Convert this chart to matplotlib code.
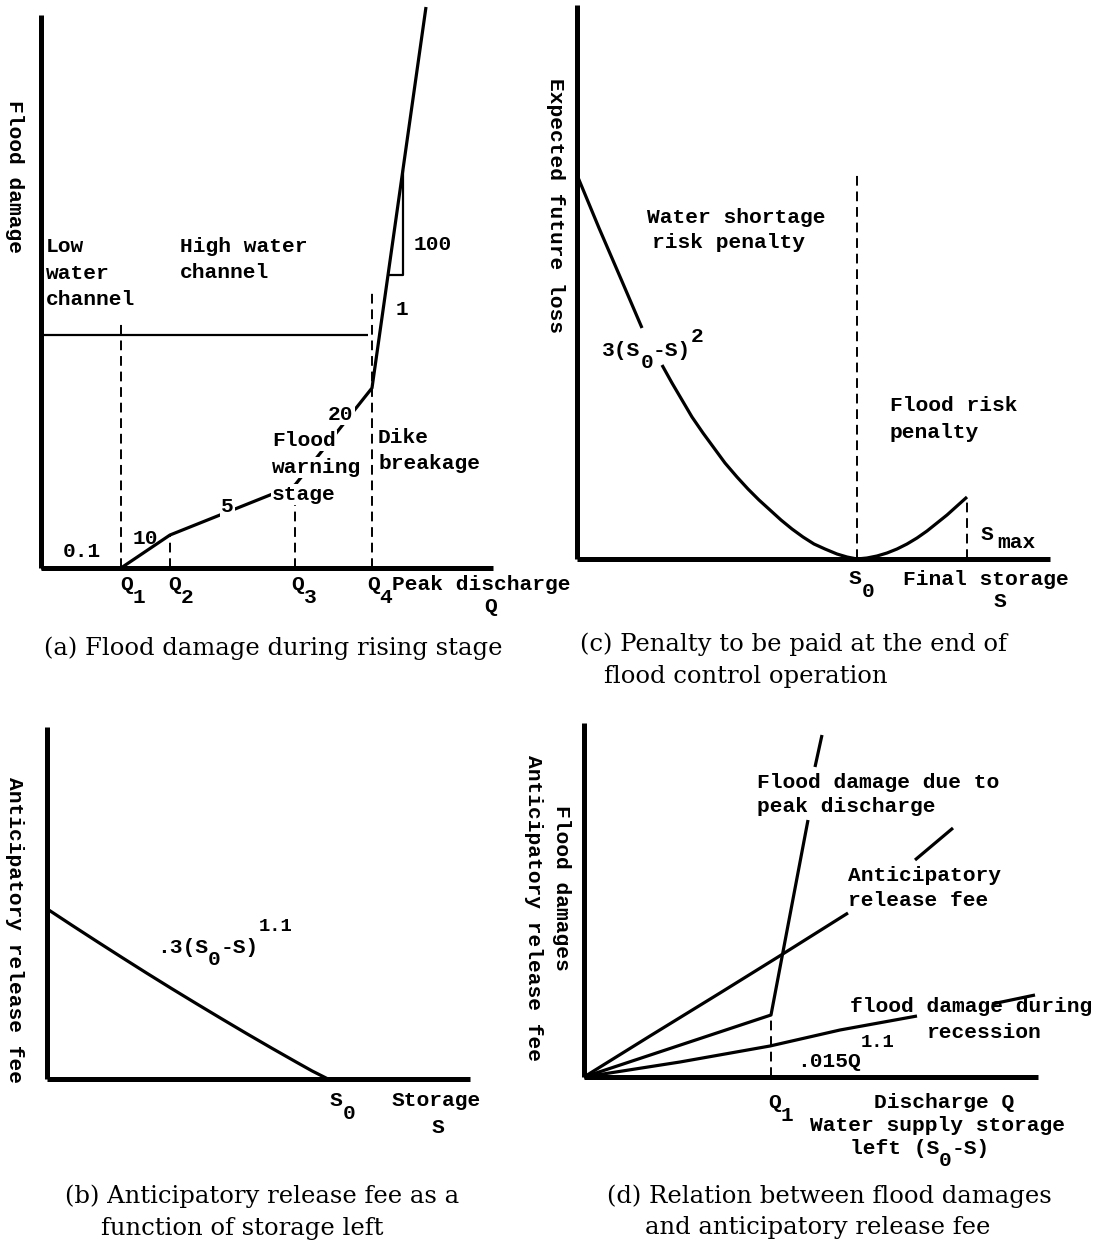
import matplotlib
matplotlib.use("Agg")
import matplotlib.pyplot as plt
from matplotlib.transforms import offset_copy

W, H = 1101, 1241
MONO = "Liberation Mono"
FS = 15.3
SERIF = "DejaVu Serif"

# ---- panel (a): flood damage during rising stage (origin-relative units)
a_axis = dict(x_end=452, y_top=553)
a_q = [80, 129, 254, 331]                 # Q1..Q4
a_dash_top = [248, 33, 63, 278]
a_damage_q = [0, 80, 129, 254, 331, 385]
a_damage_v = [0, 0, 33, 83, 180, 561]
a_channel_q = [0, 327]
a_channel_v = [233, 233]
a_tri_q = [347, 362, 362]
a_tri_v = [293, 293, 398]

# ---- panel (c): penalty at end of operation
c_axis = dict(x_end=473, y_top=554)
c_s0, c_smax = 280, 390
c_s0_top, c_smax_top = 384, 62
c_short1_s = [0, 22, 44, 65]
c_short1_v = [384, 331, 280, 231]
c_short2_s = [85, 95, 105, 115, 126, 137, 148, 160, 171, 182, 193, 204,
              215, 226, 237, 248, 260, 270, 280]
c_short2_v = [194, 176, 159, 142, 126, 111, 96, 82, 70, 59, 49, 39,
              30, 22, 15, 10, 5, 2, 0]
c_flood_s = [280, 290, 300, 310, 320, 330, 340, 350, 360, 370, 380, 390]
c_flood_v = [0, 1, 3, 6, 10, 15, 21, 28, 36, 44, 53, 62]

# ---- panel (b): anticipatory release fee
b_axis = dict(x_end=423, y_top=352)
b_fee_s = [1, 25, 50, 75, 100, 125, 150, 175, 200, 225, 250, 265, 281]
b_fee_v = [169.5, 153.7, 137.5, 121.5, 105.7, 90.2, 75.0, 60.0, 45.2, 30.7, 16.5, 8.1, 0]

# ---- panel (d): flood damages vs anticipatory release fee
d_axis = dict(x_end=454, y_top=354)
d_q1, d_q1_top = 187, 62
d_fee_q = [0, 66, 136, 194, 264]
d_fee_v = [0, 41, 84, 120, 164]
d_fee_tail_q = [331, 369]
d_fee_tail_v = [217, 249]
d_peak_q = [0, 187, 224]
d_peak_v = [0, 62, 257]
d_peak_tail_q = [231, 238]
d_peak_tail_v = [310, 342]
d_rec_q = [0, 96, 186, 256, 333]
d_rec_v = [0, 15, 31, 47, 61]
d_rec_tail_q = [408, 451]
d_rec_tail_v = [73, 82]

fig = plt.figure(figsize=(W / 100, H / 100), dpi=100)


def panel(ox, oy, axis):
    # axes whose data units are one pixel, origin at (ox, oy) in image pixels
    w, h = axis["x_end"], axis["y_top"]
    ax = fig.add_axes([ox / W, 1 - oy / H, w / W, h / H])
    ax.set_xlim(0, w)
    ax.set_ylim(0, h)
    ax.axis("off")
    ax.plot([0, 0], [0, h], color="black", lw=3.6, solid_capstyle="butt", clip_on=False)
    ax.plot([0, w], [0, 0], color="black", lw=3.6, solid_capstyle="butt", clip_on=False)
    return ax


def line(ax, xs, ys, lw=2.3):
    ax.plot(xs, ys, color="black", lw=lw, clip_on=False, solid_capstyle="butt",
            solid_joinstyle="round")


def dash(ax, x, top):
    ax.plot([x, x], [0, top], color="black", lw=1.4, ls=(0, (5, 3)), clip_on=False)


def mono(x, y, pieces, size=FS, box=False):
    # pieces: (text, vertical shift in px[, size]); x, y = left / baseline in image px
    adv = 0.0
    for txt, dy, *rest in pieces:
        fs = rest[0] if rest else size
        tr = offset_copy(fig.transFigure, fig=fig, x=adv, y=-dy * 0.72, units="points")
        t = fig.text(x / W, 1 - y / H, txt, transform=tr, family=MONO, fontsize=fs,
                     weight="bold", ha="left", va="baseline", zorder=5)
        if box:
            t.set_bbox(dict(boxstyle="square,pad=0.05", fc="white", ec="none"))
        adv += 0.6 * fs * len(txt)


def say(x, y, txt, size=FS, box=False):
    mono(x, y, [(txt, 0)], size, box)


def vlabel(x, y, txt):
    fig.text(x / W, 1 - y / H, txt, family=MONO, fontsize=FS, weight="bold",
             rotation=-90, ha="center", va="center")


def caption(x, y, txt):
    fig.text(x / W, 1 - y / H, txt, family=SERIF, fontsize=17.5, ha="left", va="baseline")


# ================= (a)
ax = panel(41, 568, a_axis)
line(ax, a_channel_q, a_channel_v, lw=1.6)
for q, t in zip(a_q, a_dash_top):
    dash(ax, q, t)
line(ax, a_damage_q, a_damage_v)
line(ax, a_tri_q, a_tri_v, lw=1.6)

for txt, y in [("Low", 252), ("water", 279), ("channel", 305)]:
    say(46, y, txt)
say(180, 252, "High water")
say(180, 278, "channel")
say(414, 250, "100")
say(396, 315, "1")
say(328, 420, "20", box=True)
for txt, y in [("Flood", 446), ("warning", 473), ("stage", 500)]:
    say(272, y, txt, box=True)
say(378, 443, "Dike")
say(378, 469, "breakage")
say(221, 512, "5", box=True)
say(133, 544, "10")
say(63, 557, "0.1")
for qx, k in zip([120, 168, 291, 367], "1234"):
    mono(qx, 590, [("Q", 0), (k, 13)])
say(392, 590, "Peak discharge")
say(484, 612, "Q")
vlabel(14, 176, "Flood damage")
caption(44, 655, "(a) Flood damage during rising stage")

# ================= (c)
ax = panel(577, 559, c_axis)
dash(ax, c_s0, c_s0_top)
dash(ax, c_smax, c_smax_top)
line(ax, c_short1_s, c_short1_v)
line(ax, c_short2_s, c_short2_v)
line(ax, c_flood_s, c_flood_v)

say(647, 223, "Water shortage")
say(652, 248, "risk penalty")
mono(602, 356, [("3(S", 0), ("0", 12), ("-S)", 0), ("2", -14)])
say(890, 411, "Flood risk")
say(890, 438, "penalty")
mono(849, 584, [("S", 0), ("0", 13)])
say(903, 585, "Final storage")
say(994, 607, "S")
say(981, 540, "S")
say(997, 548, "max")
vlabel(556, 206, "Expected future loss")
caption(580, 651, "(c) Penalty to be paid at the end of")
caption(604, 683, "flood control operation")

# ================= (b)
ax = panel(47, 1079, b_axis)
line(ax, b_fee_s, b_fee_v)

mono(157, 953, [(".3(S", 0), ("0", 12), ("-S)", 0), ("1.1", -22, 13.5)])
mono(330, 1106, [("S", 0), ("0", 13)])
say(392, 1106, "Storage")
say(432, 1133, "S")
vlabel(14, 930, "Anticipatory release fee")
caption(65, 1203, "(b) Anticipatory release fee as a")
caption(101, 1235, "function of storage left")

# ================= (d)
ax = panel(584, 1077, d_axis)
dash(ax, d_q1, d_q1_top)
line(ax, d_fee_q, d_fee_v)
line(ax, d_fee_tail_q, d_fee_tail_v)
line(ax, d_peak_q, d_peak_v)
line(ax, d_peak_tail_q, d_peak_tail_v)
line(ax, d_rec_q, d_rec_v)
line(ax, d_rec_tail_q, d_rec_tail_v)

say(757, 788, "Flood damage due to")
say(757, 812, "peak discharge")
say(848, 881, "Anticipatory")
say(848, 906, "release fee")
say(850, 1012, "flood damage during")
say(927, 1038, "recession")
mono(797, 1067, [(".015Q", 0), ("1.1", -20, 13.5)])
mono(768, 1108, [("Q", 0), ("1", 13)])
say(874, 1108, "Discharge Q")
say(810, 1131, "Water supply storage")
mono(850, 1154, [("left (S", 0), ("0", 12), ("-S)", 0)])
vlabel(561, 888, "Flood damages")
vlabel(533, 908, "Anticipatory release fee")
caption(607, 1203, "(d) Relation between flood damages")
caption(645, 1234, "and anticipatory release fee")

fig.savefig("out.png", dpi=100, facecolor="white")
